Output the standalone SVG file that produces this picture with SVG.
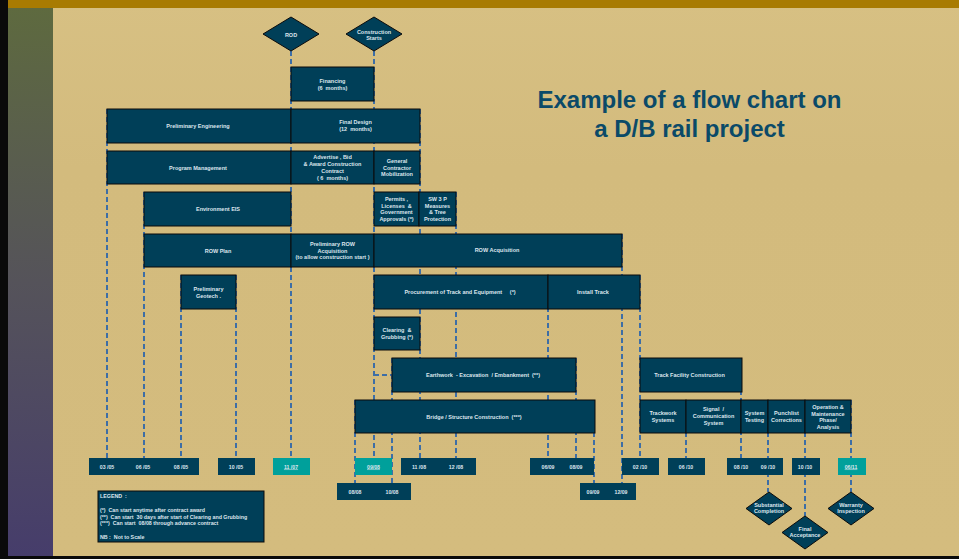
<svg xmlns="http://www.w3.org/2000/svg" width="959" height="559" viewBox="0 0 959 559">
<defs>
<linearGradient id="side" x1="0" y1="0" x2="0" y2="1">
<stop offset="0" stop-color="#5e6a3f"/>
<stop offset="0.5" stop-color="#55535a"/>
<stop offset="1" stop-color="#463d6b"/>
</linearGradient>
<linearGradient id="bg" x1="0" y1="0" x2="0" y2="1">
<stop offset="0" stop-color="#d7c083"/>
<stop offset="0.3" stop-color="#d3bb7d"/>
<stop offset="1" stop-color="#d4bc7e"/>
</linearGradient>
</defs>
<style>
.box{fill:#003f58;stroke:#0b0b0b;stroke-width:1}
.teal{fill:#00a09b;stroke:none}
.dbox{fill:#003f58;stroke:none}
.t{font-family:"Liberation Sans",Arial,Helvetica,sans-serif;font-weight:bold;font-size:5.5px;fill:#dde6ee;text-anchor:middle;white-space:pre}
.d{font-size:5.2px}
.u{text-decoration:underline}
.lg{text-anchor:start;font-size:5.3px}
.title{font-family:"Liberation Sans",Arial,Helvetica,sans-serif;font-weight:bold;font-size:24px;fill:#0b4a68;text-anchor:middle}
#connectors line,#connectors path{stroke:#3d6ea6;stroke-width:2;stroke-dasharray:5,3;fill:none}
</style>
<rect x="0" y="0" width="959" height="559" fill="url(#bg)"/>
<rect x="8" y="8" width="45" height="548" fill="url(#side)"/>
<rect x="8" y="0" width="951" height="8" fill="#a87b02"/>
<rect x="0" y="0" width="8" height="559" fill="#0a0a0a"/>
<rect x="0" y="556" width="959" height="3" fill="#0a0a0a"/>
<text class="title" x="689.5" y="108">Example of a flow chart on</text>
<text class="title" x="689.5" y="137">a D/B rail project</text>
<g id="connectors">
<line x1="107" y1="109" x2="107" y2="458"/>
<line x1="144" y1="192" x2="144" y2="458"/>
<line x1="181" y1="275" x2="181" y2="458"/>
<line x1="236" y1="275" x2="236" y2="458"/>
<line x1="291" y1="51" x2="291" y2="458"/>
<line x1="355" y1="400" x2="355" y2="483"/>
<line x1="374" y1="51" x2="374" y2="458"/>
<line x1="392" y1="358" x2="392" y2="483"/>
<line x1="420" y1="109" x2="420" y2="458"/>
<line x1="456" y1="192" x2="456" y2="458"/>
<line x1="548" y1="275" x2="548" y2="458"/>
<line x1="576" y1="358" x2="576" y2="458"/>
<line x1="594" y1="400" x2="594" y2="483"/>
<line x1="622" y1="234" x2="622" y2="483"/>
<line x1="640" y1="275" x2="640" y2="458"/>
<line x1="686" y1="400" x2="686" y2="458"/>
<line x1="741" y1="358" x2="741" y2="458"/>
<line x1="768" y1="400" x2="768" y2="492"/>
<line x1="805" y1="400" x2="805" y2="516"/>
<line x1="851" y1="400" x2="851" y2="492"/>
<path d="M374 375 H392"/>
</g>
<g id="rod"><polygon class="box" points="291,17 319,34 291,51 263,34"/><text class="t" x="291" y="36.5">ROD</text></g>
<g id="construction-starts"><polygon class="box" points="374,17 402,34 374,51 346,34"/><text class="t" x="374" y="33.5">Construction</text><text class="t" x="374" y="40">Starts</text></g>
<g id="financing"><rect class="box" x="291" y="67" width="83" height="34"/><text class="t" x="332.5" y="83">Financing</text><text class="t" x="332.5" y="90">(6  months)</text></g>
<g id="preliminary-engineering"><rect class="box" x="107" y="109" width="184" height="34"/><text class="t" x="198" y="128">Preliminary Engineering</text></g>
<g id="final-design"><rect class="box" x="291" y="109" width="129" height="34"/><text class="t" x="355.5" y="124">Final Design</text><text class="t" x="355.5" y="131">(12  months)</text></g>
<g id="program-management"><rect class="box" x="107" y="151" width="184" height="33"/><text class="t" x="198" y="169.5">Program Management</text></g>
<g id="advertise"><rect class="box" x="291" y="151" width="83" height="33"/><text class="t" x="332.5" y="158.7">Advertise , Bid</text><text class="t" x="332.5" y="165.9">&amp; Award Construction</text><text class="t" x="332.5" y="173">Contract</text><text class="t" x="332.5" y="180">( 6  months)</text></g>
<g id="gc-mobilization"><rect class="box" x="374" y="151" width="46" height="33"/><text class="t" x="397" y="163">General</text><text class="t" x="397" y="169.5">Contractor</text><text class="t" x="397" y="176">Mobilization</text></g>
<g id="environment-eis"><rect class="box" x="144" y="192" width="147" height="34"/><text class="t" x="218" y="211">Environment EIS</text></g>
<g id="permits"><rect class="box" x="374" y="192" width="45" height="34"/><text class="t" x="396.5" y="201">Permits ,</text><text class="t" x="396.5" y="207.7">Licenses  &amp;</text><text class="t" x="396.5" y="214.4">Government</text><text class="t" x="396.5" y="221.1">Approvals (*)</text></g>
<g id="sw3p"><rect class="box" x="419" y="192" width="37" height="34"/><text class="t" x="437.5" y="201">SW 3 P</text><text class="t" x="437.5" y="207.7">Measures</text><text class="t" x="437.5" y="214.4">&amp; Tree</text><text class="t" x="437.5" y="221.1">Protection</text></g>
<g id="row-plan"><rect class="box" x="144" y="234" width="147" height="33"/><text class="t" x="218" y="252.5">ROW Plan</text></g>
<g id="preliminary-row"><rect class="box" x="291" y="234" width="83" height="33"/><text class="t" x="332.5" y="246">Preliminary ROW</text><text class="t" x="332.5" y="252.5">Acquisition</text><text class="t" x="332.5" y="259">(to allow construction start )</text></g>
<g id="row-acquisition"><rect class="box" x="374" y="234" width="248" height="33"/><text class="t" x="497" y="252">ROW Acquisition</text></g>
<g id="geotech"><rect class="box" x="181" y="275" width="55" height="34"/><text class="t" x="208.5" y="291">Preliminary</text><text class="t" x="208.5" y="297.5">Geotech .</text></g>
<g id="procurement"><rect class="box" x="374" y="275" width="174" height="34"/><text class="t" x="460" y="294">Procurement of Track and Equipment     (*)</text></g>
<g id="install-track"><rect class="box" x="548" y="275" width="92" height="34"/><text class="t" x="593" y="294">Install Track</text></g>
<g id="clearing"><rect class="box" x="374" y="317" width="46" height="33"/><text class="t" x="397" y="332">Clearing  &amp;</text><text class="t" x="397" y="339">Grubbing (*)</text></g>
<g id="earthwork"><rect class="box" x="392" y="358" width="184" height="34"/><text class="t" x="483" y="377">Earthwork  - Excavation  / Embankment  (**)</text></g>
<g id="bridge"><rect class="box" x="355" y="400" width="240" height="33"/><text class="t" x="474" y="419">Bridge / Structure Construction  (***)</text></g>
<g id="track-facility"><rect class="box" x="640" y="358" width="102" height="34"/><text class="t" x="689.5" y="377">Track Facility Construction</text></g>
<g id="trackwork"><rect class="box" x="640" y="400" width="46" height="33"/><text class="t" x="663" y="414.7">Trackwork</text><text class="t" x="663" y="422">Systems</text></g>
<g id="signal"><rect class="box" x="686" y="400" width="55" height="33"/><text class="t" x="713.5" y="411">Signal  /</text><text class="t" x="713.5" y="418">Communication</text><text class="t" x="713.5" y="425">System</text></g>
<g id="system-testing"><rect class="box" x="741" y="400" width="27" height="33"/><text class="t" x="754.5" y="415">System</text><text class="t" x="754.5" y="422">Testing</text></g>
<g id="punchlist"><rect class="box" x="768" y="400" width="37" height="33"/><text class="t" x="786.5" y="415">Punchlist</text><text class="t" x="786.5" y="422">Corrections</text></g>
<g id="operation"><rect class="box" x="805" y="400" width="46" height="33"/><text class="t" x="828" y="409">Operation &amp;</text><text class="t" x="828" y="415.7">Maintenance</text><text class="t" x="828" y="422.2">Phase/</text><text class="t" x="828" y="428.5">Analysis</text></g>
<g id="dates-2005"><rect class="dbox" x="89" y="458" width="110" height="17"/><text class="t d" x="107" y="468.5">03 /05</text><text class="t d" x="143" y="468.5">06 /05</text><text class="t d" x="181" y="468.5">08 /05</text></g>
<g id="date-1005"><rect class="dbox" x="218" y="458" width="37" height="17"/><text class="t d" x="236" y="468.5">10 /05</text></g>
<g id="date-1107"><rect class="teal" x="273" y="458" width="37" height="17"/><text class="t d u" x="291" y="468.5">11 /07</text></g>
<g id="date-0908"><rect class="teal" x="355" y="458" width="37" height="17"/><text class="t d u" x="373.5" y="468.5">09/08</text></g>
<g id="dates-2008"><rect class="dbox" x="401" y="458" width="75" height="17"/><text class="t d" x="419" y="468.5">11 /08</text><text class="t d" x="456" y="468.5">12 /08</text></g>
<g id="dates-0808"><rect class="dbox" x="337" y="483" width="74" height="17"/><text class="t d" x="355" y="493.5">08/08</text><text class="t d" x="392" y="493.5">10/08</text></g>
<g id="dates-0609"><rect class="dbox" x="530" y="458" width="64" height="17"/><text class="t d" x="548" y="468.5">06/09</text><text class="t d" x="576" y="468.5">08/09</text></g>
<g id="dates-0909"><rect class="dbox" x="580" y="483" width="56" height="17"/><text class="t d" x="593" y="493.5">09/09</text><text class="t d" x="621" y="493.5">12/09</text></g>
<g id="date-0210"><rect class="dbox" x="622" y="458" width="37" height="17"/><text class="t d" x="640" y="468.5">02 /10</text></g>
<g id="date-0610"><rect class="dbox" x="668" y="458" width="37" height="17"/><text class="t d" x="686" y="468.5">06 /10</text></g>
<g id="dates-0810"><rect class="dbox" x="727" y="458" width="56" height="17"/><text class="t d" x="741" y="468.5">08 /10</text><text class="t d" x="768" y="468.5">09 /10</text></g>
<g id="date-1010"><rect class="dbox" x="792" y="458" width="28" height="17"/><text class="t d" x="805" y="468.5">10 /10</text></g>
<g id="date-0611"><rect class="teal" x="838" y="458" width="28" height="17"/><text class="t d u" x="851" y="468.5">06/11</text></g>
<g id="substantial-completion"><polygon class="box" points="769,492 792,508.5 769,525 746,508.5"/><text class="t" x="769" y="507">Substantial</text><text class="t" x="769" y="512.5">Completion</text></g>
<g id="final-acceptance"><polygon class="box" points="805,516 828,532.5 805,549 782,532.5"/><text class="t" x="805" y="531">Final</text><text class="t" x="805" y="537">Acceptance</text></g>
<g id="warranty-inspection"><polygon class="box" points="851,492 874,508.5 851,525 828,508.5"/><text class="t" x="851" y="507">Warranty</text><text class="t" x="851" y="512.5">Inspection</text></g>
<g id="legend"><rect class="box" x="98" y="491" width="166" height="51" stroke-width="1.5"/>
<text class="t lg" x="100" y="497.5">LEGEND  :</text>
<text class="t lg" x="100" y="512">(*)  Can start anytime after contract award</text>
<text class="t lg" x="100" y="518.5">(**)  Can start  30 days after start of Clearing and Grubbing</text>
<text class="t lg" x="100" y="525">(***)  Can start  08/08 through advance contract</text>
<text class="t lg" x="100" y="539">NB :  Not to Scale</text>
</g>
</svg>
